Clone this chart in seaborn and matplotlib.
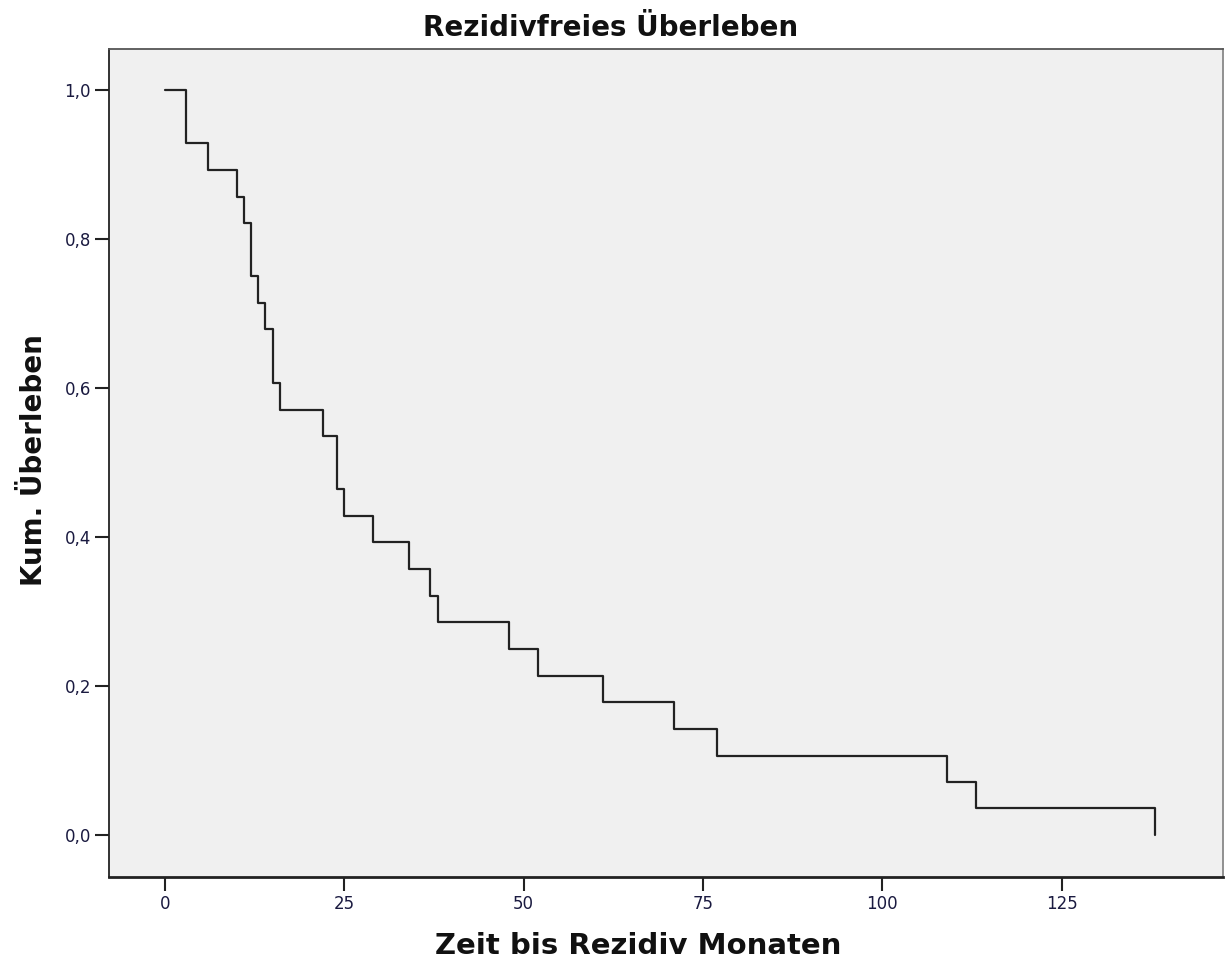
import matplotlib
matplotlib.use("Agg")
import matplotlib.pyplot as plt
import seaborn as sns
import pandas as pd
from matplotlib.ticker import FuncFormatter

# Kaplan-Meier step data
time_months = [0, 3, 6, 10, 11, 12, 13, 14, 15, 16, 22, 24, 25, 29, 34, 37, 38,
               48, 52, 61, 71, 77, 109, 113, 138]
survival = [1.000, 0.929, 0.893, 0.857, 0.821, 0.750, 0.714, 0.679, 0.607, 0.571,
            0.536, 0.464, 0.429, 0.393, 0.357, 0.321, 0.286, 0.250, 0.214, 0.179,
            0.143, 0.107, 0.071, 0.036, 0.000]
x_ticks = [0, 25, 50, 75, 100, 125]
y_ticks = [0.0, 0.2, 0.4, 0.6, 0.8, 1.0]

title = "Rezidivfreies Überleben"
x_label = "Zeit bis Rezidiv Monaten"
y_label = "Kum. Überleben"

sns.set_theme(style="white")
plt.rcParams['font.family'] = ['DejaVu Sans Condensed', 'DejaVu Sans']

df = pd.DataFrame({"t": time_months, "s": survival})

fig = plt.figure(figsize=(12.25, 9.64), dpi=100)
ax = fig.add_axes([109/1225, 1-877/964, (1223-109)/1225, (877-49)/964])
ax.set_facecolor("#F0F0F0")

sns.lineplot(data=df, x="t", y="s", drawstyle="steps-post", color="#222222",
             linewidth=1.6, ax=ax, estimator=None)

ax.set_xlim(-7.8, 147.5)
ax.set_ylim(-0.056, 1.055)
ax.set_xticks(x_ticks)
ax.set_yticks(y_ticks)
ax.yaxis.set_major_formatter(FuncFormatter(lambda v, p: f"{v:.1f}".replace(".", ",")))
ax.xaxis.set_major_formatter(FuncFormatter(lambda v, p: f"{int(v)}"))

ax.tick_params(axis="both", which="major", direction="out", length=10, width=1.5,
               color="#222222", labelsize=12, labelcolor="#1a1a40", pad=3,
               bottom=True, left=True)

for side, sp in ax.spines.items():
    sp.set_color("#222222")
    sp.set_linewidth(1.3)
ax.spines["bottom"].set_linewidth(2.0)
ax.spines["top"].set_color("#555555")
ax.spines["right"].set_color("#888888")

ax.set_xlabel(x_label, fontsize=21, fontweight="bold", color="#111111")
ax.set_ylabel(y_label, fontsize=20, fontweight="bold", color="#111111")
ax.xaxis.set_label_coords(0.475, -0.066)
ax.yaxis.set_label_coords(-0.055, 0.504)

fig.text(611/1225, 1-28/964, title, ha="center", va="center",
         fontsize=20, fontweight="bold", color="#111111")

fig.savefig("out.png", dpi=100, facecolor="white")
